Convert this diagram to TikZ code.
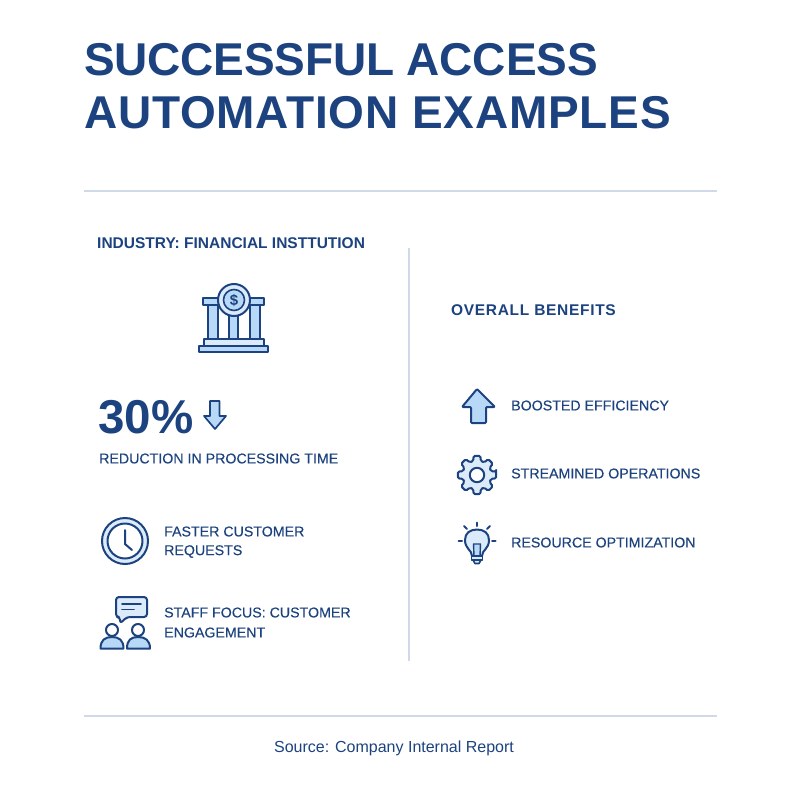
\documentclass[tikz,border=0pt]{standalone}
\usepackage{fontspec}
\setmainfont{Liberation Sans}
\newfontfamily\medfont[FakeBold=0.2]{Liberation Sans}
\definecolor{navy}{HTML}{1C437F}
\definecolor{rulec}{HTML}{CFD9E8}
\definecolor{fillc}{HTML}{B8D8F7}
\definecolor{fillb}{HTML}{DCEBFA}
\newcommand{\geartooth}[1]{-- ([shift={(477,475)}]#1-10:19.5) -- ([shift={(477,475)}]#1+10:19.5) -- ([shift={(477,475)}]#1+15:14.5) -- ([shift={(477,475)}]#1+30:14.5)}
\tikzset{
  title/.style={anchor=west,inner sep=0pt,text=navy,font=\fontsize{46}{46}\selectfont\bfseries},
  head/.style={anchor=west,inner sep=0pt,text=navy,font=\fontsize{15.5}{15.5}\selectfont\bfseries},
  body/.style={anchor=west,inner sep=0pt,text=navy,font=\fontsize{14.2}{14.2}\medfont},
  icon/.style={draw=navy,line width=2pt,line join=round,line cap=round},
  rulel/.style={draw=rulec,line width=1.6pt},
}
\begin{document}
\begin{tikzpicture}[x=1pt,y=-1pt]
\useasboundingbox[fill=white] (0,0) rectangle (800,800);
\node[title] (t1) at (84,60) {\addfontfeature{LetterSpace=-0.4}SUCCESSFUL ACCESS};
\node[title] (t2) at (84,113) {\addfontfeature{LetterSpace=1.7}AUTOMATION EXAMPLES};
\draw[rulel] (84,191) -- (717,191);
\draw[rulel] (84,716) -- (717,716);
\draw[rulel] (409,248) -- (409,661);
\node[head] (ind) at (97,243) {INDUSTRY: FINANCIAL INSTTUTION};
\node[head] (ob) at (451,310) {\addfontfeature{LetterSpace=4.4}OVERALL BENEFITS};
% bank
\draw[icon,fill=fillc] (208,305) rectangle (218,339);
\draw[icon,fill=fillc] (229,315) rectangle (238,339);
\draw[icon,fill=fillc] (250,305) rectangle (260,339);
\draw[icon,fill=fillc] (203,298) rectangle (264,305);
\draw[icon,fill=fillb] (204,339) rectangle (264,346);
\draw[icon,fill=fillc] (199,346) rectangle (268,352);
\draw[icon,fill=fillb] (234,300) circle (16);
\draw[icon,fill=fillc,line width=1.6pt] (234,300) circle (10.5);
\node[inner sep=0pt,text=navy,font=\fontsize{15}{15}\selectfont\bfseries] (dollar) at (234,300) {\$};
% 30%
\node[anchor=west,inner sep=0pt,text=navy,font=\fontsize{47.5}{47.5}\selectfont\bfseries] (pct) at (98,417) {30\%};
\draw[icon,fill=fillc,line width=1.7pt] (210,401) -- (219.5,401) -- (219.5,416) -- (226,416) -- (215,429) -- (204,416) -- (210,416) -- cycle;
\node[body] (red) at (99,458.5) {REDUCTION IN PROCESSING TIME};
% clock
\draw[icon,fill=fillb] (125,541) circle (23);
\draw[icon,fill=white] (125,541) circle (17.5);
\draw[icon] (125,530) -- (125,544) -- (132,550);
\node[body] (f1) at (164,531.5) {FASTER CUSTOMER};
\node[body] (f2) at (164,551.5) {REQUESTS};
% people and speech bubble
\draw[icon,fill=fillb,rounded corners=3pt] (120,617) -- (116,617) -- (116,597) -- (147,597) -- (147,617) -- (127,617) -- (120,623.5) -- cycle;
\draw[icon,line width=1.6pt] (122,604) -- (141,604);
\draw[icon,line width=1.6pt] (122,609.5) -- (134,609.5);
\draw[icon,fill=fillc] (100.5,648.5) .. controls (100.5,640) and (105,637) .. (112,637) .. controls (119,637) and (123.5,640) .. (123.5,648.5) -- cycle;
\draw[icon,fill=white] (112,630) circle (6);
\draw[icon,fill=fillc] (127,648.5) .. controls (127,640) and (131,637) .. (138,637) .. controls (145,637) and (150,640) .. (150,648.5) -- cycle;
\draw[icon,fill=white] (138,630) circle (6);
\node[body] (s1) at (164,612.5) {STAFF FOCUS: CUSTOMER};
\node[body] (s2) at (164,632.5) {ENGAGEMENT};
% up arrow
\draw[icon,fill=fillc,rounded corners=1pt] (477,389) -- (495,407) -- (486,407) -- (486,423) -- (471,423) -- (471,407) -- (462,407) -- cycle;
\node[body] (b1) at (511,405.5) {BOOSTED EFFICIENCY};
% gear
\draw[icon,fill=fillb,rounded corners=1.5pt] ([shift={(477,475)}]-10:19.5) \geartooth{0} \geartooth{45} \geartooth{90} \geartooth{135} \geartooth{180} \geartooth{225} \geartooth{270} \geartooth{315} -- cycle;
\draw[icon,fill=white] (477,475) circle (7.2);
\node[body] (b2) at (511,473.5) {STREAMINED OPERATIONS};
% bulb
\draw[icon,fill=fillb] (472,556) .. controls (472,550) and (465,549) .. (465,540) .. controls (465,533) and (470,529.5) .. (477,529.5) .. controls (484,529.5) and (489,533) .. (489,540) .. controls (489,549) and (482,550) .. (482,556) -- cycle;
\draw[icon,fill=fillc,line width=1.4pt] (474,556) -- (473.5,544) -- (480.5,544) -- (480,556);
\draw[icon,fill=fillb,line width=1.6pt] (471.5,556) -- (482.5,556) -- (482.5,560) -- (471.5,560) -- cycle;
\draw[icon,fill=fillb,line width=1.6pt] (473,560) -- (481,560) -- (479,563.5) -- (475,563.5) -- cycle;
\draw[icon] (477,522.5) -- (477,526);
\draw[icon] (464,526) -- (467,529);
\draw[icon] (490,526) -- (487,529);
\draw[icon] (458.5,541) -- (462,541);
\draw[icon] (492,541) -- (495.5,541);
\node[body] (b3) at (511,542.5) {RESOURCE OPTIMIZATION};
\node[anchor=center,inner sep=0pt,text=navy,font=\fontsize{16}{16}\selectfont] (src) at (394,748) {Source: Company Internal Report};
\end{tikzpicture}
\end{document}
